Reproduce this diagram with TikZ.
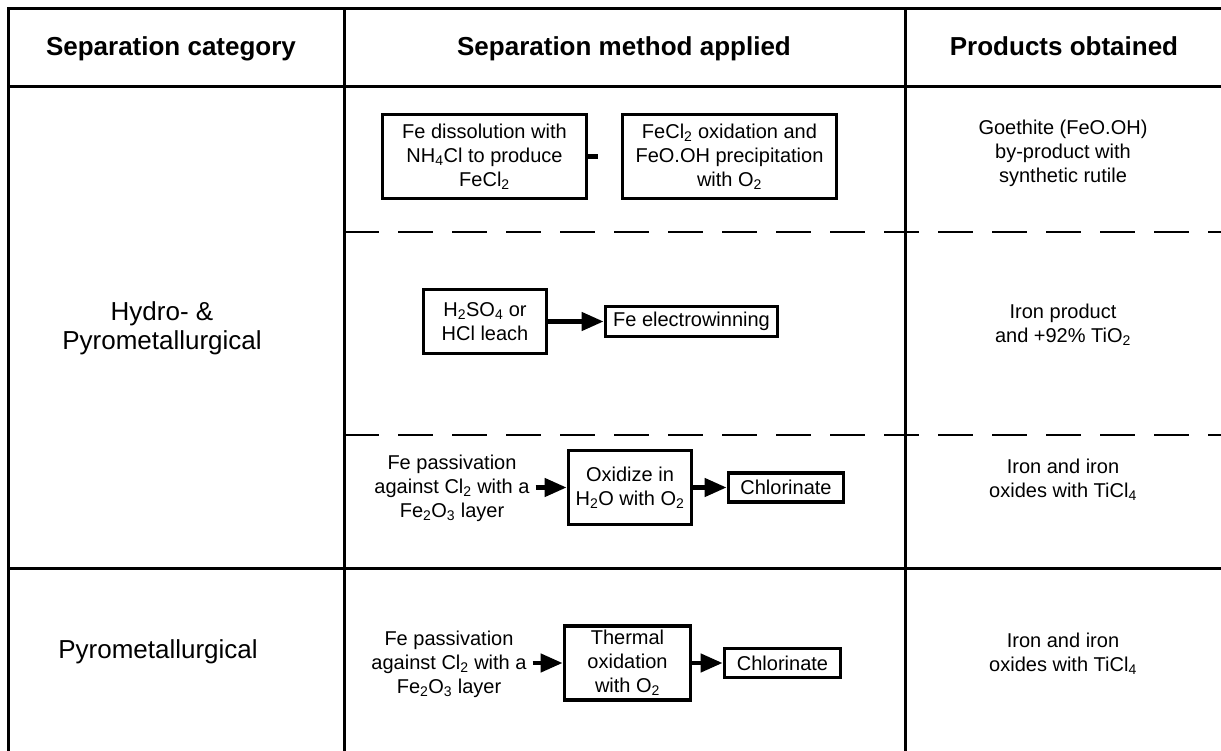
\documentclass[tikz,border=0pt]{standalone}
\usepackage{fontspec}
\setmainfont{Liberation Sans}
\usetikzlibrary{arrows.meta}
\begin{document}
\begin{tikzpicture}[x=1pt,y=-1pt,
 tbl/.style={line width=3pt},
 dsh/.style={line width=2pt, dash pattern=on 34.5pt off 19.5pt},
 box/.style={draw, line width=3.8pt, align=center, inner sep=0pt, font=\fontsize{20}{24}\selectfont},
 txt/.style={align=center, inner sep=0pt, font=\fontsize{20}{24}\selectfont},
 hdr/.style={font=\bfseries\fontsize{26}{31}\selectfont, inner sep=0pt, anchor=base},
 cat/.style={align=center, font=\fontsize{26}{29}\selectfont, inner sep=0pt},
 arr/.style={line width=4.5pt, -{Triangle[length=22pt,width=18pt]}},
 stub/.style={line width=4.5pt},
]
\useasboundingbox (0,0) rectangle (1221,751);
% table
\draw[tbl] (1221,9) -- (8,9) -- (8,751);
\draw[tbl] (8,87) -- (1221,87);
\draw[tbl] (344,9) -- (344,751);
\draw[tbl] (905,9) -- (905,751);
\draw[tbl] (8,568) -- (1221,568);
\draw[dsh] (344,232) -- (1221,232);
\draw[dsh] (344,435) -- (1221,435);
% headers
\node[hdr] (h1) at (171,56) {Separation category};
\node[hdr] (h2) at (624,56) {Separation method applied};
\node[hdr] (h3) at (1064,56) {Products obtained};
% categories
\node[cat] (c1) at (162,328) {Hydro- \&\\Pyrometallurgical};
\node[cat] (c2) at (158,652) {Pyrometallurgical};
% row 1
\node[box, minimum width=204, minimum height=84] (a1) at (484.5,156.5) {Fe dissolution with\\NH\textsubscript{4}Cl to produce\\FeCl\textsubscript{2}};
\node[box, minimum width=214, minimum height=84] (a2) at (729.5,156.5) {FeCl\textsubscript{2} oxidation and\\FeO.OH precipitation\\with O\textsubscript{2}};
\coordinate (a1s) at (598,156.5);
\draw[stub] (a1.east) -- (a1s);
\node[txt] (p1) at (1063,153) {Goethite (FeO.OH)\\by-product with\\synthetic rutile};
% row 2
\node[box, minimum width=123, minimum height=64] (b1) at (485,321.5) {H\textsubscript{2}SO\textsubscript{4} or\\HCl leach};
\node[box, minimum width=172, minimum height=30] (b2) at (691.5,321.5) {Fe electrowinning};
\draw[arr] (b1.east) -- (b2.west);
\node[txt] (p2) at (1063,325) {Iron product\\and +92\% TiO\textsubscript{2}};
% row 3
\node[txt] (t3) at (452,488.5) {Fe passivation\\against Cl\textsubscript{2} with a\\Fe\textsubscript{2}O\textsubscript{3} layer};
\node[box, minimum width=123, minimum height=74] (d1) at (630,487.5) {Oxidize in\\H\textsubscript{2}O with O\textsubscript{2}};
\node[box, minimum width=115, minimum height=29] (d2) at (786,487.5) {Chlorinate};
\draw[arr, shorten <=6pt] (t3.east |- d1.west) -- (d1.west);
\draw[arr] (d1.east) -- (d2.west);
\node[txt] (p3) at (1063,480) {Iron and iron\\oxides with TiCl\textsubscript{4}};
% row 4
\node[txt] (t4) at (449,664) {Fe passivation\\against Cl\textsubscript{2} with a\\Fe\textsubscript{2}O\textsubscript{3} layer};
\node[box, minimum width=126, minimum height=74] (e1) at (627.5,663) {Thermal\\oxidation\\with O\textsubscript{2}};
\node[box, minimum width=116, minimum height=29] (e2) at (782.5,663) {Chlorinate};
\draw[arr, shorten <=6pt] (t4.east |- e1.west) -- (e1.west);
\draw[arr] (e1.east) -- (e2.west);
\node[txt] (p4) at (1063,654) {Iron and iron\\oxides with TiCl\textsubscript{4}};
\end{tikzpicture}
\end{document}
